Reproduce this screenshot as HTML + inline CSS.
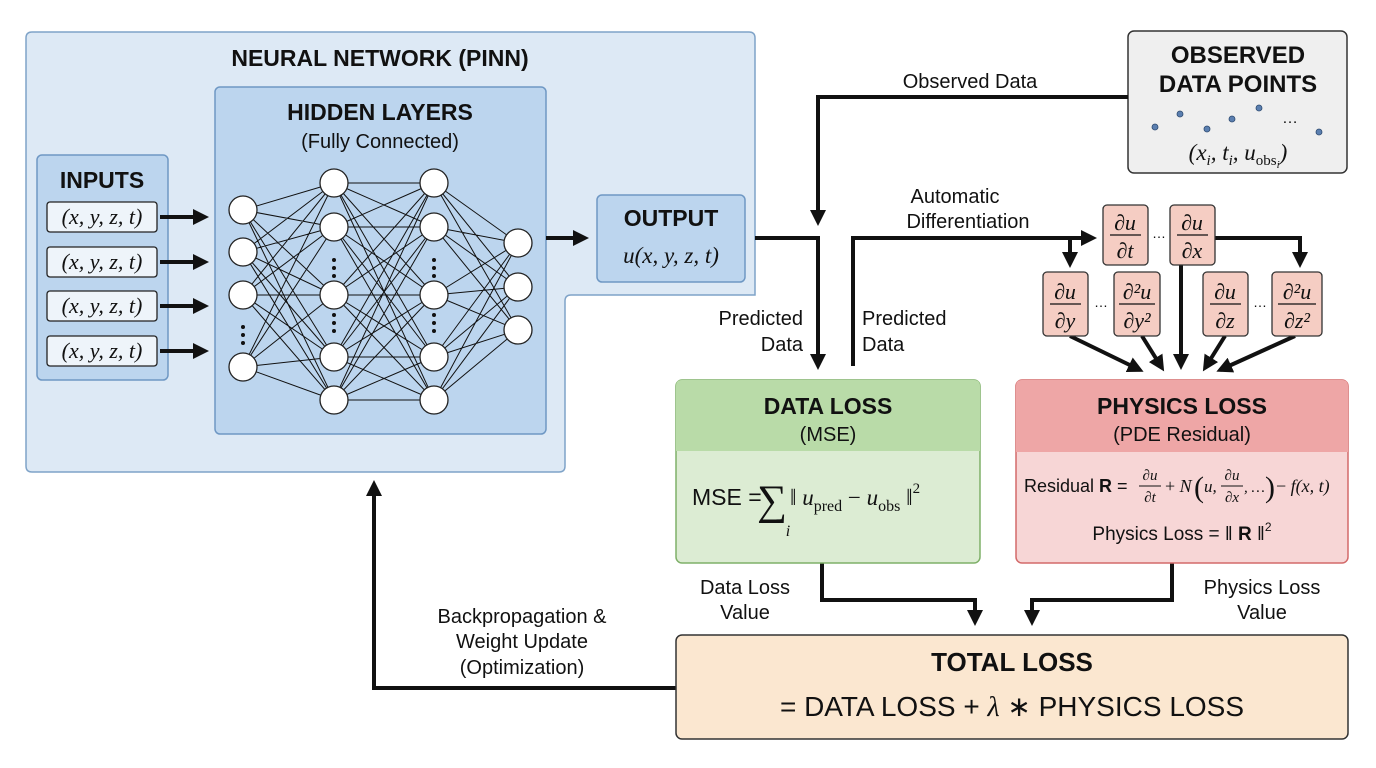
<!DOCTYPE html>
<html><head><meta charset="utf-8"><style>
body{margin:0;background:#fff}
svg{display:block}
.t{font-family:"Liberation Sans",sans-serif}
.b{font-weight:bold}
.m{font-family:"Liberation Serif",serif;font-style:italic}
</style></head><body>
<svg width="1376" height="768" viewBox="0 0 1376 768" xmlns="http://www.w3.org/2000/svg">
<defs>
<marker id="a" markerWidth="4" markerHeight="4" refX="3" refY="2" orient="auto" markerUnits="strokeWidth"><path d="M0,0 L4,2 L0,4 z" fill="#111"/></marker>
</defs>
<!-- NN outer -->
<path d="M32 32 H749 Q755 32 755 38 V295 H571 Q565 295 565 301 V466 Q565 472 559 472 H32 Q26 472 26 466 V38 Q26 32 32 32 Z" fill="#dde9f5" stroke="#7fa3c8" stroke-width="1.5"/>
<text x="380" y="66" class="t b" font-size="23" text-anchor="middle" fill="#111">NEURAL NETWORK (PINN)</text>
<rect x="215" y="87" width="331" height="347" rx="5" fill="#bcd5ee" stroke="#6f98c4" stroke-width="1.5"/>
<text x="380" y="120" class="t b" font-size="23" text-anchor="middle" fill="#111">HIDDEN LAYERS</text>
<text x="380" y="148" class="t" font-size="20" text-anchor="middle" fill="#111">(Fully Connected)</text>
<rect x="37" y="155" width="131" height="225" rx="5" fill="#bcd5ee" stroke="#6f98c4" stroke-width="1.5"/>
<text x="102" y="188" class="t b" font-size="23" text-anchor="middle" fill="#111">INPUTS</text>
<g fill="#eef4fa" stroke="#222" stroke-width="1.3">
<rect x="47" y="202" width="110" height="30" rx="3"/><rect x="47" y="247" width="110" height="30" rx="3"/><rect x="47" y="291" width="110" height="30" rx="3"/><rect x="47" y="336" width="110" height="30" rx="3"/>
</g>
<g class="m" font-size="22" text-anchor="middle" fill="#111">
<text x="102" y="224">(x, y, z, t)</text><text x="102" y="269">(x, y, z, t)</text><text x="102" y="313">(x, y, z, t)</text><text x="102" y="358">(x, y, z, t)</text>
</g>
<g stroke="#111" stroke-width="4" marker-end="url(#a)">
<line x1="160" y1="217" x2="205" y2="217"/><line x1="160" y1="262" x2="205" y2="262"/><line x1="160" y1="306" x2="205" y2="306"/><line x1="160" y1="351" x2="205" y2="351"/>
<line x1="546" y1="238" x2="585" y2="238"/>
</g>
<path stroke="#111" stroke-width="1" fill="none" d="
M243 210L334 183M243 210L334 227M243 210L334 295M243 210L334 357M243 210L334 400
M243 252L334 183M243 252L334 227M243 252L334 295M243 252L334 357M243 252L334 400
M243 295L334 183M243 295L334 227M243 295L334 295M243 295L334 357M243 295L334 400
M243 367L334 183M243 367L334 227M243 367L334 295M243 367L334 357M243 367L334 400
M334 183L434 183M334 183L434 227M334 183L434 295M334 183L434 357M334 183L434 400
M334 227L434 183M334 227L434 227M334 227L434 295M334 227L434 357M334 227L434 400
M334 295L434 183M334 295L434 227M334 295L434 295M334 295L434 357M334 295L434 400
M334 357L434 183M334 357L434 227M334 357L434 295M334 357L434 357M334 357L434 400
M334 400L434 183M334 400L434 227M334 400L434 295M334 400L434 357M334 400L434 400
M434 183L518 243M434 183L518 287M434 183L518 330
M434 227L518 243M434 227L518 287M434 227L518 330
M434 295L518 243M434 295L518 287M434 295L518 330
M434 357L518 243M434 357L518 287M434 357L518 330
M434 400L518 243M434 400L518 287M434 400L518 330"/>
<g fill="#fff" stroke="#222" stroke-width="1.3">
<circle cx="243" cy="210" r="14"/><circle cx="243" cy="252" r="14"/><circle cx="243" cy="295" r="14"/><circle cx="243" cy="367" r="14"/>
<circle cx="334" cy="183" r="14"/><circle cx="334" cy="227" r="14"/><circle cx="334" cy="295" r="14"/><circle cx="334" cy="357" r="14"/><circle cx="334" cy="400" r="14"/>
<circle cx="434" cy="183" r="14"/><circle cx="434" cy="227" r="14"/><circle cx="434" cy="295" r="14"/><circle cx="434" cy="357" r="14"/><circle cx="434" cy="400" r="14"/>
<circle cx="518" cy="243" r="14"/><circle cx="518" cy="287" r="14"/><circle cx="518" cy="330" r="14"/>
</g>
<g fill="#111">
<circle cx="243" cy="327" r="2"/><circle cx="243" cy="335" r="2"/><circle cx="243" cy="343" r="2"/>
<circle cx="334" cy="260" r="2"/><circle cx="334" cy="268" r="2"/><circle cx="334" cy="276" r="2"/>
<circle cx="334" cy="315" r="2"/><circle cx="334" cy="323" r="2"/><circle cx="334" cy="331" r="2"/>
<circle cx="434" cy="260" r="2"/><circle cx="434" cy="268" r="2"/><circle cx="434" cy="276" r="2"/>
<circle cx="434" cy="315" r="2"/><circle cx="434" cy="323" r="2"/><circle cx="434" cy="331" r="2"/>
</g>
<rect x="597" y="195" width="148" height="87" rx="5" fill="#bcd5ee" stroke="#6f98c4" stroke-width="1.5"/>
<text x="671" y="226" class="t b" font-size="23" text-anchor="middle" fill="#111">OUTPUT</text>
<text x="671" y="263" class="m" font-size="23" text-anchor="middle" fill="#111">u(x, y, z, t)</text>
<!-- observed -->
<rect x="1128" y="31" width="219" height="142" rx="6" fill="#efefef" stroke="#333" stroke-width="1.5"/>
<text x="1238" y="63" class="t b" font-size="24" text-anchor="middle" fill="#111">OBSERVED</text>
<text x="1238" y="92" class="t b" font-size="24" text-anchor="middle" fill="#111">DATA POINTS</text>
<g fill="#5b7fb0" stroke="#2d4a70" stroke-width="0.8">
<circle cx="1155" cy="127" r="3"/><circle cx="1180" cy="114" r="3"/><circle cx="1207" cy="129" r="3"/><circle cx="1232" cy="119" r="3"/><circle cx="1259" cy="108" r="3"/><circle cx="1319" cy="132" r="3"/>
</g>
<text x="1290" y="123" class="t" font-size="16" text-anchor="middle" fill="#111">…</text>
<text x="1238" y="160" class="m" font-size="23" text-anchor="middle" fill="#111">(x<tspan font-size="15" dy="5">i</tspan><tspan dy="-5">, t</tspan><tspan font-size="15" dy="5">i</tspan><tspan dy="-5">, u</tspan><tspan font-size="15" dy="5" font-style="normal">obs</tspan><tspan font-size="11" dy="3">i</tspan><tspan dy="-8">)</tspan></text>
<!-- connectors -->
<g stroke="#111" stroke-width="4" fill="none">
<path d="M1128 97 H818 V222" marker-end="url(#a)"/>
<path d="M755 238 H818 V366" marker-end="url(#a)"/>
<path d="M853 366 V238 H1093" marker-end="url(#a)"/>
<path d="M1070 238 V264" marker-end="url(#a)"/>
<path d="M1215 238 H1300 V264" marker-end="url(#a)"/>
<path d="M1181 265 V366" marker-end="url(#a)"/>
<path d="M1070 336 L1140 370" marker-end="url(#a)"/>
<path d="M1142 336 L1162 368" marker-end="url(#a)"/>
<path d="M1225 336 L1205 368" marker-end="url(#a)"/>
<path d="M1295 336 L1220 370" marker-end="url(#a)"/>
<path d="M822 563 V600 H975 V622" marker-end="url(#a)"/>
<path d="M1172 563 V600 H1032 V622" marker-end="url(#a)"/>
<path d="M676 688 H374 V484" marker-end="url(#a)"/>
</g>
<g class="t" font-size="20" fill="#111">
<text x="970" y="88" text-anchor="middle">Observed Data</text>
<text x="955" y="203" text-anchor="middle">Automatic</text>
<text x="968" y="228" text-anchor="middle">Differentiation</text>
<text x="803" y="325" text-anchor="end">Predicted</text>
<text x="803" y="351" text-anchor="end">Data</text>
<text x="862" y="325">Predicted</text>
<text x="862" y="351">Data</text>
<text x="745" y="594" text-anchor="middle">Data Loss</text>
<text x="745" y="619" text-anchor="middle">Value</text>
<text x="1262" y="594" text-anchor="middle">Physics Loss</text>
<text x="1262" y="619" text-anchor="middle">Value</text>
<text x="522" y="623" text-anchor="middle">Backpropagation &amp;</text>
<text x="522" y="648" text-anchor="middle">Weight Update</text>
<text x="522" y="674" text-anchor="middle">(Optimization)</text>
</g>
<!-- derivative boxes -->
<g fill="#f5cdc3" stroke="#333" stroke-width="1.3">
<rect x="1103" y="205" width="45" height="60" rx="4"/><rect x="1170" y="205" width="45" height="60" rx="4"/>
<rect x="1043" y="272" width="45" height="64" rx="4"/><rect x="1114" y="272" width="46" height="64" rx="4"/>
<rect x="1203" y="272" width="45" height="64" rx="4"/><rect x="1272" y="272" width="50" height="64" rx="4"/>
</g>
<g stroke="#111" stroke-width="1.3">
<line x1="1110" y1="235" x2="1141" y2="235"/><line x1="1177" y1="235" x2="1208" y2="235"/>
<line x1="1050" y1="304" x2="1081" y2="304"/><line x1="1119" y1="304" x2="1155" y2="304"/>
<line x1="1210" y1="304" x2="1241" y2="304"/><line x1="1278" y1="304" x2="1316" y2="304"/>
</g>
<g class="m" font-size="22" text-anchor="middle" fill="#111">
<text x="1125" y="230">∂u</text><text x="1125" y="258">∂t</text>
<text x="1192" y="230">∂u</text><text x="1192" y="258">∂x</text>
<text x="1065" y="299">∂u</text><text x="1065" y="328">∂y</text>
<text x="1137" y="299">∂²u</text><text x="1137" y="328">∂y²</text>
<text x="1225" y="299">∂u</text><text x="1225" y="328">∂z</text>
<text x="1297" y="299">∂²u</text><text x="1297" y="328">∂z²</text>
</g>
<g class="t" font-size="14" fill="#111" text-anchor="middle">
<text x="1159" y="238">…</text><text x="1101" y="307">…</text><text x="1260" y="307">…</text>
</g>
<!-- data loss -->
<rect x="676" y="380" width="304" height="183" rx="6" fill="#dcecd3" stroke="#7fb069" stroke-width="1.5"/>
<path d="M682 380 H974 Q980 380 980 386 V451 H676 V386 Q676 380 682 380 Z" fill="#b9dba8"/>
<text x="828" y="414" class="t b" font-size="23" text-anchor="middle" fill="#111">DATA LOSS</text>
<text x="828" y="441" class="t" font-size="20" text-anchor="middle" fill="#111">(MSE)</text>
<text x="692" y="505" class="t" font-size="23" fill="#111">MSE =</text>
<text x="772" y="514" font-family="Liberation Serif,serif" font-size="42" text-anchor="middle" fill="#111">∑</text>
<text x="788" y="536" class="m" font-size="16" text-anchor="middle" fill="#111">i</text>
<text x="790" y="505" class="m" font-size="23" fill="#111"><tspan font-style="normal">‖ </tspan>u<tspan font-style="normal" font-size="16" dy="6">pred</tspan><tspan dy="-6" font-style="normal"> − </tspan>u<tspan font-style="normal" font-size="16" dy="6">obs</tspan><tspan dy="-6" font-style="normal"> ‖</tspan><tspan font-style="normal" font-size="15" dy="-12">2</tspan></text>
<!-- physics loss -->
<rect x="1016" y="380" width="332" height="183" rx="6" fill="#f7d6d6" stroke="#d36a6a" stroke-width="1.5"/>
<path d="M1022 380 H1342 Q1348 380 1348 386 V452 H1016 V386 Q1016 380 1022 380 Z" fill="#eea6a6"/>
<text x="1182" y="414" class="t b" font-size="23" text-anchor="middle" fill="#111">PHYSICS LOSS</text>
<text x="1182" y="441" class="t" font-size="20" text-anchor="middle" fill="#111">(PDE Residual)</text>
<text x="1024" y="492" class="t" font-size="18" fill="#111">Residual <tspan font-weight="bold">R</tspan> =</text>
<g class="m" font-size="15" fill="#111" text-anchor="middle">
<text x="1150" y="480">∂u</text><text x="1150" y="502">∂t</text>
<text x="1232" y="480">∂u</text><text x="1232" y="502">∂x</text>
</g>
<line x1="1139" y1="486" x2="1161" y2="486" stroke="#111"/>
<line x1="1221" y1="486" x2="1243" y2="486" stroke="#111"/>
<text x="1165" y="492" class="m" font-size="18" fill="#111"><tspan font-style="normal">+</tspan> N</text>
<text x="1194" y="497" font-family="Liberation Serif,serif" font-size="30" fill="#111">(</text>
<text x="1204" y="492" class="m" font-size="17" fill="#111">u,</text>
<text x="1244" y="492" class="m" font-size="15" fill="#111">, …</text>
<text x="1265" y="497" font-family="Liberation Serif,serif" font-size="30" fill="#111">)</text>
<text x="1276" y="492" class="m" font-size="18" fill="#111"><tspan font-style="normal">−</tspan> f(x, t)</text>
<text x="1182" y="540" class="t" font-size="19" text-anchor="middle" fill="#111">Physics Loss = ‖ <tspan font-weight="bold">R</tspan> ‖<tspan font-size="12" dy="-9">2</tspan></text>
<!-- total -->
<rect x="676" y="635" width="672" height="104" rx="6" fill="#fbe7d0" stroke="#333" stroke-width="1.5"/>
<text x="1012" y="671" class="t b" font-size="26" text-anchor="middle" fill="#111">TOTAL LOSS</text>
<text x="1012" y="716" class="t" font-size="28" text-anchor="middle" fill="#111">= DATA LOSS + <tspan font-family="Liberation Serif,serif" font-style="italic">λ</tspan> ∗ PHYSICS LOSS</text>
</svg>
</body></html>
